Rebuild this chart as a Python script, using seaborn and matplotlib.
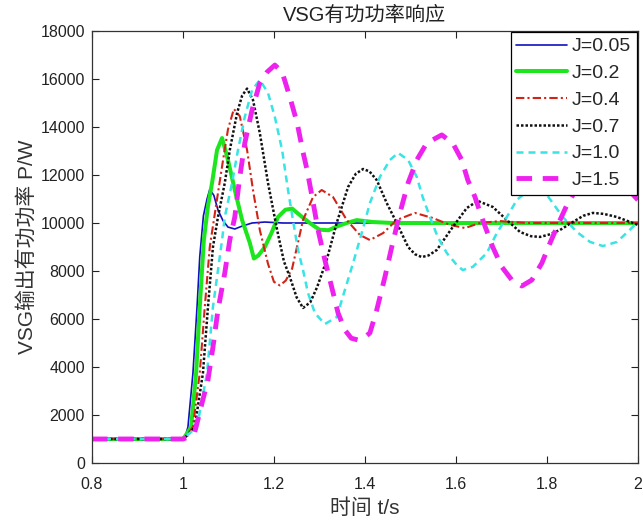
import matplotlib
matplotlib.use("Agg")
import matplotlib.pyplot as plt
import numpy as np
import pandas as pd
import seaborn as sns

# ---- sampled response curves (time in s, active power in W) ----
t_j005 = [0.8, 1.0, 1.005, 1.011, 1.022, 1.031, 1.037, 1.045, 1.053, 1.059, 1.068,
          1.077, 1.088, 1.099, 1.114, 1.13, 1.152, 1.18, 1.22, 2.0]
p_j005 = [1000, 1000, 1100, 1500, 3750, 6500, 8600, 10300, 11000, 11400, 11150,
          10540, 10100, 9830, 9750, 9870, 10000, 10040, 10000, 10000]

t_j02 = [0.8, 1.0, 1.006, 1.018, 1.029, 1.037, 1.046, 1.055, 1.064, 1.075, 1.086,
         1.099, 1.114, 1.130, 1.147, 1.156, 1.166, 1.180, 1.195, 1.209, 1.225, 1.240,
         1.262, 1.279, 1.300, 1.320, 1.338, 1.36, 1.382, 1.418, 1.46, 2.0]
p_j02 = [1000, 1000, 1150, 1500, 3750, 6500, 9290, 10700, 11670, 13040, 13540,
         12625, 11375, 10125, 9170, 8520, 8650, 9000, 9600, 10250, 10550, 10600,
         10250, 10000, 9720, 9700, 9850, 10000, 10120, 10040, 10000, 10000]

t_j04 = [0.8, 1.0, 1.008, 1.022, 1.037, 1.048, 1.059, 1.075, 1.088, 1.099, 1.112,
         1.125, 1.141, 1.154, 1.169, 1.187, 1.200, 1.213, 1.226, 1.240, 1.264, 1.286,
         1.305, 1.330, 1.360, 1.389, 1.411, 1.440, 1.470, 1.510, 1.549, 1.587, 1.620,
         1.653, 1.697, 1.756, 2.0]
p_j04 = [1000, 1000, 1150, 1500, 3750, 6500, 9000, 11000, 12600, 13900, 14750,
         14450, 13040, 11375, 9710, 8300, 7550, 7400, 7600, 8100, 10125, 11080,
         11375, 11080, 10125, 9500, 9290, 9580, 10125, 10420, 10210, 9920, 9790,
         10000, 10080, 10000, 10000]

t_j07 = [0.8, 1.0, 1.01, 1.026, 1.044, 1.055, 1.066, 1.077, 1.092, 1.103, 1.119,
         1.130, 1.141, 1.154, 1.169, 1.187, 1.207, 1.222, 1.235, 1.250, 1.264, 1.280,
         1.295, 1.316, 1.338, 1.363, 1.380, 1.396, 1.410, 1.426, 1.448, 1.470, 1.495,
         1.510, 1.525, 1.540, 1.558, 1.593, 1.624, 1.648, 1.681, 1.712, 1.741, 1.765,
         1.785, 1.805, 1.829, 1.857, 1.880, 1.901, 1.925, 1.954, 1.975, 2.0]
p_j07 = [1000, 1000, 1150, 1500, 3750, 6500, 9000, 10250, 11670, 13040, 14580,
         15300, 15600, 15125, 13750, 11670, 9710, 8400, 7750, 6900, 6460, 6700,
         7330, 8460, 10000, 11500, 12050, 12250, 12150, 11790, 10830, 10000, 9000,
         8700, 8580, 8650, 8875, 9830, 10625, 10920, 10670, 10125, 9625, 9450,
         9420, 9520, 9710, 10040, 10300, 10420, 10380, 10250, 10100, 9920]

t_j10 = [0.8, 1.0, 1.012, 1.031, 1.053, 1.066, 1.086, 1.092, 1.108, 1.121, 1.136,
         1.152, 1.169, 1.187, 1.202, 1.218, 1.231, 1.242, 1.253, 1.264, 1.275, 1.290,
         1.312, 1.338, 1.356, 1.374, 1.393, 1.411, 1.433, 1.455, 1.473, 1.495, 1.514,
         1.527, 1.543, 1.560, 1.580, 1.602, 1.615, 1.637, 1.668, 1.690, 1.712, 1.734,
         1.755, 1.777, 1.795, 1.813, 1.835, 1.866, 1.895, 1.923, 1.954, 1.982, 2.0]
p_j10 = [1000, 1000, 1200, 1500, 3750, 6500, 9290, 10250, 11670, 13040, 14420,
         15540, 15960, 15420, 14420, 13040, 11375, 10100, 8875, 8040, 7080, 6250,
         5790, 6080, 7210, 8330, 9580, 10830, 11920, 12625, 12920, 12625, 11920,
         11080, 10250, 9420, 8750, 8250, 8040, 8170, 8750, 9580, 10250, 10960,
         11300, 11430, 11300, 10830, 10250, 9625, 9210, 9040, 9210, 9710, 10040]

t_j15 = [0.8, 1.0, 1.012, 1.026, 1.042, 1.055, 1.066, 1.077, 1.092, 1.103, 1.114,
         1.125, 1.136, 1.152, 1.169, 1.185, 1.202, 1.218, 1.235, 1.251, 1.264, 1.273,
         1.284, 1.297, 1.312, 1.327, 1.341, 1.356, 1.370, 1.385, 1.400, 1.411, 1.426,
         1.444, 1.459, 1.477, 1.495, 1.514, 1.536, 1.569, 1.593, 1.613, 1.626, 1.642,
         1.659, 1.681, 1.701, 1.723, 1.745, 1.767, 1.789, 1.807, 1.829, 1.846, 1.870,
         1.900, 1.935, 1.965, 2.0]
p_j15 = [1000, 1000, 1080, 1290, 2500, 3460, 4830, 6375, 7920, 9290, 10250,
         11920, 13330, 14710, 15830, 16290, 16580, 16290, 15250, 14170, 12950, 12200,
         11080, 9710, 8460, 7330, 6250, 5540, 5200, 5125, 5250, 5420, 6375,
         7750, 9000, 10420, 11670, 12625, 13330, 13670, 13330, 12625, 11800, 11080,
         10125, 9000, 8170, 7625, 7375, 7625, 8330, 9170, 10125, 10830, 11550,
         11950, 12050, 11700, 10960]

labels = ["J=0.05", "J=0.2", "J=0.4", "J=0.7", "J=1.0", "J=1.5"]
series_t = [t_j005, t_j02, t_j04, t_j07, t_j10, t_j15]
series_p = [p_j005, p_j02, p_j04, p_j07, p_j10, p_j15]

x_ticks = [0.8, 1.0, 1.2, 1.4, 1.6, 1.8, 2.0]
x_tick_labels = ["0.8", "1", "1.2", "1.4", "1.6", "1.8", "2"]
y_ticks = [0, 2000, 4000, 6000, 8000, 10000, 12000, 14000, 16000, 18000]

# line appearance for each inertia value
styles = [
    dict(color="#1010c0", lw=1.2, ls="-"),
    dict(color="#1ee61e", lw=2.9, ls="-"),
    dict(color="#d02418", lw=1.5, ls=(0, (4, 1.5, 1, 1.5))),
    dict(color="#111111", lw=1.8, ls=(0, (1, 0.8))),
    dict(color="#38e4e4", lw=1.8, ls=(0, (2.8, 2.0))),
    dict(color="#ee22ee", lw=3.5, ls=(0, (3.2, 2.2))),
]

sns.set_theme(style="ticks")
plt.rcParams["font.family"] = ["Liberation Sans", "Noto Sans CJK SC"]
plt.rcParams["axes.unicode_minus"] = False

fig = plt.figure(figsize=(6.43, 5.20), dpi=100)
ax = fig.add_axes([0.143, 0.1096, 0.849, 0.8308])

for lab, tt, pp, st in zip(labels, series_t, series_p, styles):
    df = pd.DataFrame({"t": tt, "P": pp})
    sns.lineplot(data=df, x="t", y="P", ax=ax, color=st["color"], linewidth=st["lw"],
                 linestyle=st["ls"], label=lab, errorbar=None)

ax.set_xlim(0.8, 2.0)
ax.set_ylim(0, 18000)
ax.set_xticks(x_ticks)
ax.set_xticklabels(x_tick_labels)
ax.set_yticks(y_ticks)
ax.tick_params(direction="in", length=5, width=0.8, top=True, right=True,
               labelsize=11.5, colors="#222222")
ax.tick_params(axis="x", pad=10)
ax.tick_params(axis="y", pad=5)
for sp in ax.spines.values():
    sp.set_color("#333333")
    sp.set_linewidth(0.9)

ax.set_title("VSG有功功率响应", fontsize=14.5, color="#222222", pad=7)
ax.set_xlabel("时间 t/s", fontsize=15, color="#333333", labelpad=5)
ax.set_ylabel("VSG输出有功功率 P/W", fontsize=15, color="#333333", labelpad=3)

leg = ax.legend(loc="upper right", fontsize=14, frameon=True, fancybox=False,
                framealpha=1, edgecolor="black", borderaxespad=0.05,
                handlelength=2.6, handletextpad=0.25, labelspacing=0.47,
                borderpad=0.3)
leg.get_frame().set_linewidth(0.9)

fig.savefig("out.png", dpi=100)
